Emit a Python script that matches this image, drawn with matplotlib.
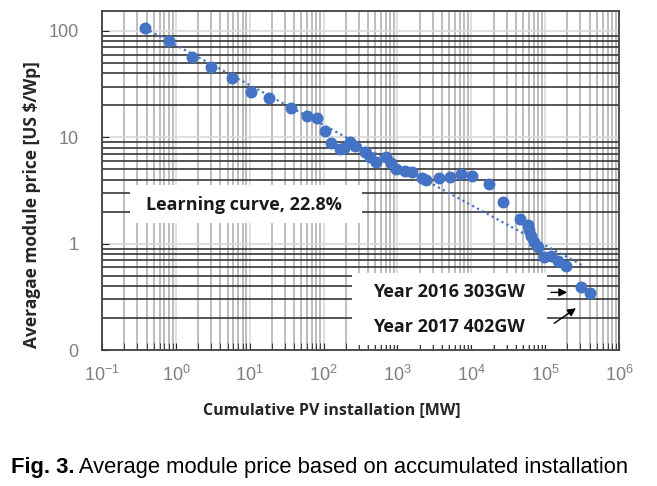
import matplotlib
matplotlib.use("Agg")
from matplotlib import pyplot as plt
from matplotlib.patches import Rectangle
from matplotlib.ticker import LogLocator, NullFormatter
import numpy as np

# cumulative installation [MW] and average module price [US $/Wp]
cum_mw = [0.38, 0.81, 1.63, 3.0, 5.7, 10.5, 18, 36, 60, 82, 106, 127, 165, 188,
          224, 262, 358, 419, 515, 704, 822, 960, 1280, 1580, 2160, 2440, 3700,
          5150, 7260, 10200, 17100, 27000, 45500, 57700, 60800, 64600, 71000,
          78700, 96900, 119000, 147000, 190000, 303000, 402000]
price = [107.7, 80.7, 57.0, 45.6, 36.0, 26.9, 23.5, 19.0, 16.0, 15.2, 11.4, 8.8,
         7.7, 8.0, 9.1, 8.2, 7.3, 6.6, 5.9, 6.6, 5.7, 5.0, 4.86, 4.76, 4.12, 3.97,
         4.18, 4.27, 4.53, 4.33, 3.62, 2.48, 1.71, 1.50, 1.35, 1.18, 1.04, 0.94,
         0.75, 0.76, 0.68, 0.62, 0.39, 0.34]

# learning curve (22.8%) end points
trend_mw = [0.38, 340000]
trend_price = [106, 0.61]

y_ticks = [0.1, 1, 10, 100]
y_labels = ["0", "1", "10", "100"]

blue = "#4472C4"
bold_font = "Open Sans"
plt.rcParams["font.family"] = ["Liberation Sans", "DejaVu Sans"]
plt.rcParams["mathtext.default"] = "regular"

fig = plt.figure(figsize=(6.57, 4.86), dpi=100)
ax = fig.add_axes([0.1553, 0.2798, 0.787, 0.6975])
ax.set_xscale("log")
ax.set_yscale("log")
ax.set_xlim(0.1, 1e6)
ax.set_ylim(0.1, 154)

# grid: grey verticals, black minor horizontals, pale majors
ax.xaxis.set_minor_locator(LogLocator(base=10, subs=np.arange(2, 10) * 1.0, numticks=100))
ax.yaxis.set_minor_locator(LogLocator(base=10, subs=np.arange(2, 10) * 1.0, numticks=100))
ax.xaxis.set_minor_formatter(NullFormatter())
ax.yaxis.set_minor_formatter(NullFormatter())
ax.set_axisbelow(True)
ax.grid(which="major", axis="x", color="#d9d9d9", lw=1.2)
ax.grid(which="minor", axis="x", color="#ababab", lw=1.1)
ax.grid(which="major", axis="y", color="#d9d9d9", lw=1.2)
ax.grid(which="minor", axis="y", color="#262626", lw=1.1)

ax.set_yticks(y_ticks, y_labels)
ax.tick_params(axis="x", which="both", direction="in", length=5, color="#262626",
               labelsize=13, labelcolor="#7f7f7f", pad=11)
ax.tick_params(axis="y", which="major", direction="in", length=5, color="#262626",
               labelsize=13, labelcolor="#7f7f7f", pad=17)
ax.tick_params(axis="y", which="minor", length=0)
for s in ax.spines.values():
    s.set_color("#404040")
    s.set_linewidth(1.3)

# trend line and data
ax.plot(trend_mw, trend_price, ls=(0, (1, 1.5)), color=blue, lw=1.6, zorder=3)
ax.plot(cum_mw, price, "o", color=blue, markersize=7.6, zorder=4)

# white label boxes
ax.add_patch(Rectangle((0.054, 0.375), 0.448, 0.112, transform=ax.transAxes,
                       facecolor="white", edgecolor="none", zorder=2))
ax.add_patch(Rectangle((0.483, 0.015), 0.377, 0.212, transform=ax.transAxes,
                       facecolor="white", edgecolor="none", zorder=2))
ax.text(0.275, 0.428, "Learning curve, 22.8%", transform=ax.transAxes, ha="center",
        va="center", fontsize=13, fontweight="bold", family=bold_font, color="#1a1a1a", zorder=5)
ax.text(0.671, 0.170, "Year 2016 303GW", transform=ax.transAxes, ha="center",
        va="center", fontsize=13, fontweight="bold", family=bold_font, color="#1a1a1a", zorder=5)
ax.text(0.671, 0.069, "Year 2017 402GW", transform=ax.transAxes, ha="center",
        va="center", fontsize=13, fontweight="bold", family=bold_font, color="#1a1a1a", zorder=5)
ax.annotate("", xy=(0.905, 0.170), xytext=(0.863, 0.170), xycoords="axes fraction",
            arrowprops=dict(arrowstyle="-|>", color="black", lw=1.0, mutation_scale=12), zorder=5)
ax.annotate("", xy=(0.921, 0.128), xytext=(0.870, 0.074), xycoords="axes fraction",
            arrowprops=dict(arrowstyle="-|>", color="black", lw=1.0, mutation_scale=12), zorder=5)

ax.set_ylabel("Averagae module price [US $/Wp]", fontsize=12.5, fontweight="bold",
              family=bold_font, color="#262626")
ax.yaxis.set_label_coords(-0.118, 0.43)
fig.text(332 / 657, 1 - 410 / 486, "Cumulative PV installation [MW]", ha="center",
         va="center", fontsize=11.5, fontweight="bold", family=bold_font, color="#262626")

# caption
t1 = fig.text(11 / 657, 1 - 478 / 486, "Fig. 3.", fontsize=15.8, fontweight="bold",
              va="bottom", color="black")
plt.annotate(" Average module price based on accumulated installation", xy=(1, 0),
             xycoords=t1, va="bottom", fontsize=15.8, color="black", annotation_clip=False)

fig.savefig("out.png", dpi=100)
